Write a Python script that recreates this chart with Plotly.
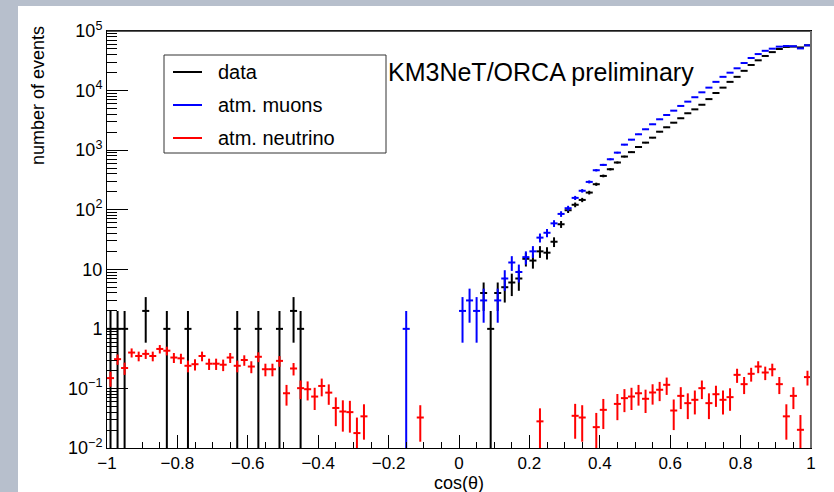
import numpy as np
import plotly.graph_objects as go

# Binning: 100 bins of width 0.02 in cos(theta)
N_BINS = 100
edges = np.linspace(-1.0, 1.0, N_BINS + 1)
centres = 0.5 * (edges[:-1] + edges[1:])
half_width = 0.5 * (edges[1] - edges[0])

# Observed events per bin
data_counts = [
    1, 1, 1, 0, 0, 2, 0, 0, 1, 0,
    0, 1, 0, 0, 0, 0, 0, 0, 1, 0,
    0, 1, 0, 0, 1, 0, 2, 1, 0, 0,
    0, 0, 0, 0, 0, 0, 0, 0, 0, 0,
    0, 0, 0, 0, 0, 0, 0, 0, 0, 0,
    0, 0, 0, 4, 1, 4, 5, 6, 7, 15,
    14, 20, 19, 29, 57, 98, 121, 146, 194, 268,
    369, 478, 620, 780, 925, 1130, 1337, 1620, 2040, 2420,
    2890, 3430, 4160, 4840, 5780, 7190, 9100, 11200, 14000, 17000,
    21450, 26900, 32200, 38100, 44200, 49900, 54000, 54800, 53000, 57500,
]

# Simulated atmospheric muons per bin
muon_counts = [
    0, 0, 0, 0, 0, 0, 0, 0, 0, 0,
    0, 0, 0, 0, 0, 0, 0, 0, 0, 0,
    0, 0, 0, 0, 0, 0, 0, 0, 0, 0,
    0, 0, 0, 0, 0, 0, 0, 0, 0, 0,
    0, 0, 1, 0, 0, 0, 0, 0, 0, 0,
    2, 3, 2, 3, 0, 3, 7, 13, 9, 16,
    20, 34, 41, 59, 85, 106, 158, 208, 293, 460,
    565, 703, 908, 1237, 1500, 1846, 2240, 2717, 3296, 3892,
    4600, 5520, 6520, 7730, 9350, 11200, 14000, 17000, 19950, 23650,
    29000, 35200, 41000, 46500, 50500, 54600, 56000, 55500, 51000, 57500,
]

# Simulated atmospheric neutrinos per bin (weighted events)
nu_rate = [
    0.149, 0.31, 0.22, 0.40, 0.35, 0.38, 0.35, 0.46, 0.43, 0.33,
    0.32, 0.24, 0.255, 0.35, 0.26, 0.26, 0.25, 0.33, 0.24, 0.30,
    0.233, 0.34, 0.21, 0.21, 0.29, 0.083, 0.216, 0.101, 0.097, 0.073,
    0.11, 0.085, 0.047, 0.041, 0.040, 0.0178, 0.034, 0, 0, 0,
    0, 0, 0, 0, 0.0325, 0, 0, 0, 0, 0,
    0, 0, 0, 0, 0, 0, 0, 0, 0, 0,
    0, 0.028, 0, 0, 0, 0, 0.0347, 0.0325, 0, 0.0224,
    0.0437, 0, 0.055, 0.0687, 0.073, 0.083, 0.067, 0.0855, 0.095, 0.115,
    0.0426, 0.075, 0.0566, 0.0644, 0.101, 0.0566, 0.080, 0.0644, 0.0714, 0.169,
    0.118, 0.176, 0.233, 0.185, 0.21, 0.118, 0.034, 0.075, 0.0202, 0.155,
]
# mean weight of one simulated neutrino event (sets the MC stat. error)
NU_MC_WEIGHT = 0.012

x_ticks = [-1, -0.8, -0.6, -0.4, -0.2, 0, 0.2, 0.4, 0.6, 0.8, 1]
x_ticktext = ["\u22121", "\u22120.8", "\u22120.6", "\u22120.4", "\u22120.2",
              "0", "0.2", "0.4", "0.6", "0.8", "1"]
y_ticks = [1e-2, 1e-1, 1, 10, 1e2, 1e3, 1e4, 1e5]
y_ticktext = ["10<sup>\u22122</sup>", "10<sup>\u22121</sup>", "1", "10",
              "10<sup>2</sup>", "10<sup>3</sup>", "10<sup>4</sup>", "10<sup>5</sup>"]

FONT = "Liberation Sans, Arial, Helvetica, sans-serif"
BLACK, BLUE, RED = "#000000", "#0000ff", "#ff0000"

# figure / frame geometry in pixels
W, H = 834, 492
L, R, T, B = 107, 811, 31, 448


def px(xp, yp):
    """pixel position -> paper coordinates"""
    return (xp - L) / (R - L), (B - yp) / (B - T)


def hist_trace(values, errors, color, name):
    v = np.asarray(values, dtype=float)
    e = np.asarray(errors, dtype=float)
    keep = v > 0
    return go.Scatter(
        x=centres[keep], y=v[keep], name=name, mode="markers",
        marker=dict(size=0, color=color, opacity=0),
        error_x=dict(type="data", array=np.full(keep.sum(), half_width),
                     width=0, thickness=2, color=color),
        error_y=dict(type="data", array=e[keep], width=0, thickness=2,
                     color=color),
        showlegend=False, hoverinfo="x+y",
    )


data_v = np.asarray(data_counts, float)
muon_v = np.asarray(muon_counts, float)
nu_v = np.asarray(nu_rate, float)

fig = go.Figure()
fig.add_trace(hist_trace(data_v, np.sqrt(data_v), BLACK, "data"))
fig.add_trace(hist_trace(muon_v, np.sqrt(muon_v), BLUE, "atm. muons"))
fig.add_trace(hist_trace(nu_v, np.sqrt(nu_v * NU_MC_WEIGHT), RED, "atm. neutrino"))

shapes = []
# white canvas over the slide background
x0, y0 = px(18, 492)
x1, y1 = px(834, 6)
shapes.append(dict(type="rect", xref="paper", yref="paper", x0=x0, y0=y0,
                   x1=x1, y1=y1, fillcolor="white", line=dict(width=0),
                   layer="below"))
# darker top edge and grey right edge of the frame
shapes.append(dict(type="line", xref="paper", yref="paper", x0=0, x1=1,
                   y0=1, y1=1, line=dict(color="#222222", width=1.5)))
shapes.append(dict(type="line", xref="paper", yref="paper", x0=1, x1=1,
                   y0=0, y1=1, line=dict(color="#6e6e6e", width=2)))

annotations = []
# legend box
lx0, ly0 = px(164, 153)
lx1, ly1 = px(386, 55)
shapes.append(dict(type="rect", xref="paper", yref="paper", x0=lx0, y0=ly0,
                   x1=lx1, y1=ly1, fillcolor="white",
                   line=dict(color="#333333", width=1)))
for label, color, ypx in [("data", BLACK, 72), ("atm. muons", BLUE, 105),
                          ("atm. neutrino", RED, 138)]:
    sx0, sy = px(173, ypx)
    sx1, _ = px(202, ypx)
    shapes.append(dict(type="line", xref="paper", yref="paper", x0=sx0,
                       x1=sx1, y0=sy, y1=sy, line=dict(color=color, width=2)))
    tx, ty = px(216, ypx)
    annotations.append(dict(text=label, xref="paper", yref="paper", x=tx, y=ty,
                            xanchor="left", yanchor="middle", showarrow=False,
                            font=dict(family=FONT, size=20, color="black")))

tx, ty = px(386, 72)
annotations.append(dict(text="KM3NeT/ORCA preliminary", xref="paper",
                        yref="paper", x=tx, y=ty, xanchor="left",
                        yanchor="middle", showarrow=False,
                        font=dict(family=FONT, size=25, color="black")))
tx, ty = px(458.5, 483)
annotations.append(dict(text="cos(\u03b8)", xref="paper", yref="paper", x=tx,
                        y=ty, xanchor="center", yanchor="middle",
                        showarrow=False, borderpad=0,
                        font=dict(family=FONT, size=18, color="black")))
tx, ty = px(37.5, 24)
annotations.append(dict(text="number of events", xref="paper", yref="paper",
                        x=tx, y=ty, xanchor="center", yanchor="top",
                        textangle=-90, showarrow=False,
                        font=dict(family=FONT, size=18, color="black")))

fig.update_layout(
    width=W, height=H,
    margin=dict(l=L, r=W - R, t=T, b=H - B, pad=0),
    paper_bgcolor="#b7bfcc", plot_bgcolor="white",
    font=dict(family=FONT, size=18, color="black"),
    shapes=shapes, annotations=annotations, showlegend=False,
    xaxis=dict(range=[-1, 1], tickvals=x_ticks, ticktext=x_ticktext,
               ticks="inside", ticklen=13, tickwidth=1, tickcolor="black",
               showline=True, linecolor="black", linewidth=1, mirror=True,
               showgrid=False, zeroline=False,
               minor=dict(dtick=0.05, ticks="inside", ticklen=6,
                          tickcolor="black", tickwidth=1, showgrid=False),
               tickfont=dict(family=FONT, size=17)),
    yaxis=dict(type="log", range=[-2, 5], tickvals=y_ticks,
               ticktext=y_ticktext, ticks="inside", ticklen=21, tickwidth=1,
               tickcolor="black", showline=True, linecolor="black",
               linewidth=1, mirror=True, showgrid=False, zeroline=False,
               minor=dict(dtick="D1", ticks="inside", ticklen=10,
                          tickcolor="black", tickwidth=1, showgrid=False),
               tickfont=dict(family=FONT, size=18)),
)

fig.write_html("out.html")
